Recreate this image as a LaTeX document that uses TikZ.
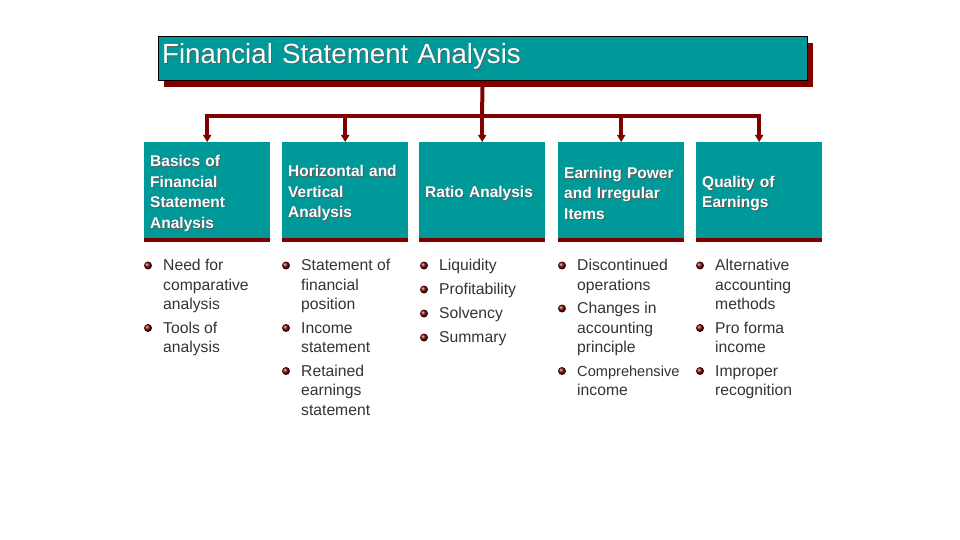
\documentclass[tikz,border=0pt]{standalone}
\usepackage{fontspec}
\setmainfont{Liberation Sans}
\usetikzlibrary{arrows.meta,shadows}

\definecolor{fsateal}{RGB}{0,153,153}
\definecolor{fsared}{RGB}{128,0,0}
\definecolor{fsatext}{RGB}{51,51,51}

% white text with a small dark shadow
\newcommand{\shtxt}[1]{\leavevmode\rlap{\kern0.9pt\raisebox{-0.9pt}{\textcolor{black!65}{#1}}}#1}

% one bullet item: name, text x, first baseline, text
\newcommand{\bulletitem}[4]{%
  \node[dot] (#1-dot) at (#2-15,#3-5) {};
  \node[item] (#1) at (#2,#3-13.65) {\strut#4};
}

\tikzset{
  titlebox/.style={draw=black, line width=1.2pt, fill=fsateal, text=white,
    anchor=north west, minimum width=649pt, minimum height=44pt,
    inner ysep=0pt, inner xsep=4pt, text width=641pt, align=left,
    text height=27pt, text depth=17pt,
    font=\fontsize{27.7}{30}\selectfont,
    drop shadow={shadow xshift=6pt, shadow yshift=-6pt, fill=fsared, opacity=1}},
  headbox/.style={fill=fsateal, text=white, anchor=north west,
    minimum height=96pt, inner xsep=6pt, text width=114pt, align=left,
    font=\fontsize{15.5}{20.5}\selectfont\bfseries,
    execute at begin node={\rule{0pt}{18.5pt}},
    drop shadow={shadow xshift=0pt, shadow yshift=-4pt, fill=fsared, opacity=1}},
  link/.style={draw=fsared, line width=4pt},
  dot/.style={circle, ball color=fsared!85!black, minimum size=8pt, inner sep=0pt},
  item/.style={anchor=north west, inner sep=0pt, align=left, text=fsatext,
    font=\fontsize{15.7}{19.5}\selectfont},
}

\begin{document}
\begin{tikzpicture}[x=1pt, y=-1pt]
  \useasboundingbox (0,0) rectangle (960,540);

  % top of the chart
  \node[titlebox] (title) at (157.5,36) {\shtxt{Financial Statement Analysis}};
  \coordinate (hub) at (482,116);

  % the five topics
  \node[headbox] (basics)  at (144,142) {\shtxt{Basics of}\\\shtxt{Financial}\\\shtxt{Statement}\\\shtxt{Analysis}};
  \node[headbox] (horiz)   at (282,142) {\shtxt{Horizontal and}\\\shtxt{Vertical}\\\shtxt{Analysis}};
  \node[headbox] (ratio)   at (419,142) {\shtxt{Ratio Analysis}};
  \node[headbox] (power)   at (558,142) {\shtxt{Earning Power}\\\shtxt{and Irregular}\\\shtxt{Items}};
  \node[headbox] (quality) at (696,142) {\shtxt{Quality of}\\\shtxt{Earnings}};

  \draw[link] (title.south) -- (hub);
  \foreach \b in {basics,horiz,ratio,power,quality}
    \draw[link, -{Triangle[length=7pt,width=8pt]}] (hub) -| (\b.north);

  % bullet lists
  \bulletitem{need}{163}{270.5}{Need for\\comparative\\analysis}
  \bulletitem{tools}{163}{333}{Tools of\\analysis}

  \bulletitem{sfp}{301}{270.5}{Statement of\\financial\\position}
  \bulletitem{inc}{301}{333}{Income\\statement}
  \bulletitem{ret}{301}{376}{Retained\\earnings\\statement}

  \bulletitem{liq}{439}{270.5}{Liquidity}
  \bulletitem{prof}{439}{294.5}{Profitability}
  \bulletitem{solv}{439}{318.5}{Solvency}
  \bulletitem{summ}{439}{342.5}{Summary}

  \bulletitem{disc}{577}{270.5}{Discontinued\\operations}
  \bulletitem{chg}{577}{313.5}{Changes in\\accounting\\principle}
  \bulletitem{comp}{577}{376}{{\fontsize{14.6}{19.5}\selectfont Comprehensive}\\income}

  \bulletitem{alt}{715}{270.5}{Alternative\\accounting\\methods}
  \bulletitem{proforma}{715}{333}{Pro forma\\income}
  \bulletitem{improper}{715}{376}{Improper\\recognition}
\end{tikzpicture}
\end{document}
